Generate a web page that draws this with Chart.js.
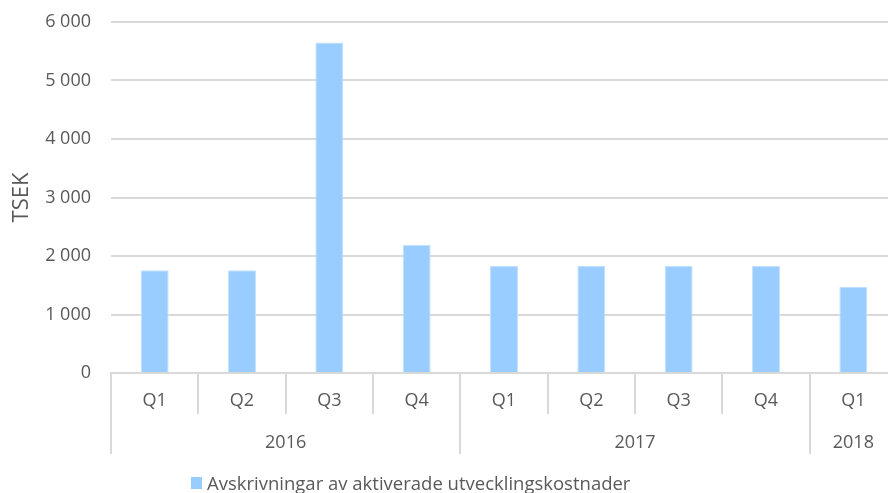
<!DOCTYPE html>
<html>
<head>
<meta charset="utf-8">
<script src="https://cdn.jsdelivr.net/npm/chart.js@4.4.1/dist/chart.umd.min.js"></script>
<style>
    html, body { margin: 0; padding: 0; background: #fff; overflow: hidden; }
    #wrap { position: relative; width: 888px; height: 493px; overflow: hidden; }
    #chartCanvas { position: absolute; left: 0; top: 0; }
    #legend {
        position: absolute; left: 191px; top: 470px;
        font-family: "Open Sans", sans-serif; font-size: 18.5px; color: #595959;
        display: flex; align-items: center; white-space: nowrap;
    }
    #legend .box { width: 11px; height: 12px; background: #99CCFF; margin-right: 5px; }
</style>
</head>
<body>
<div id="wrap">
    <canvas id="chartCanvas" width="900" height="493"></canvas>
    <div id="legend"><span class="box"></span><span>Avskrivningar av aktiverade utvecklingskostnader</span></div>
</div>
<script>
const quarters = ['Q1', 'Q2', 'Q3', 'Q4', 'Q1', 'Q2', 'Q3', 'Q4', 'Q1'];
const years = ['2016', '2017', '2018'];
const yearSpans = [4, 4, 1];
const depreciation = [1755, 1755, 5650, 2190, 1835, 1835, 1835, 1835, 1475];
const yTicks = [0, 1000, 2000, 3000, 4000, 5000, 6000];

const textColor = '#595959';
const gridColor = '#d9d9d9';
const fontFamily = '"Open Sans", sans-serif';

// year boundaries and year label positions on a 0..n linear axis
let yearBounds = [0];
let yearCenters = [];
let pos = 0;
for(let i = 0; i < yearSpans.length; i++){
    yearCenters.push(pos + yearSpans[i] / 2);
    pos += yearSpans[i];
    yearBounds.push(pos);
}
const yearTickValues = yearBounds.concat(yearCenters).sort((a, b) => a - b);

const fmt = (v) => v.toString().replace(/\B(?=(\d{3})+(?!\d))/g, ' ');

new Chart(document.getElementById('chartCanvas'), {
    type: 'bar',
    data: {
        labels: quarters,
        datasets: [{
            label: 'Avskrivningar av aktiverade utvecklingskostnader',
            data: depreciation,
            backgroundColor: '#99CCFF',
            borderColor: '#c4e1ff',
            borderWidth: 1,
            barPercentage: 0.32,
            categoryPercentage: 1.0
        }]
    },
    options: {
        responsive: false,
        animation: false,
        layout: { padding: { top: 22, right: 3, bottom: 39, left: 0 } },
        plugins: {
            legend: { display: false },
            tooltip: { enabled: false }
        },
        scales: {
            y: {
                min: 0,
                max: 6000,
                afterBuildTicks: (scale) => { scale.ticks = yTicks.map(v => ({ value: v })); },
                afterFit: (scale) => {
                    scale.width = 111;
                    scale.paddingTop = 0;
                    scale.paddingBottom = 0;
                },
                border: { display: false },
                grid: { color: gridColor, lineWidth: 2, drawTicks: false },
                ticks: {
                    padding: 20,
                    color: textColor,
                    font: { family: fontFamily, size: 18 },
                    callback: (v) => fmt(v)
                },
                title: {
                    display: true,
                    text: 'TSEK',
                    color: textColor,
                    font: { family: fontFamily, size: 22 },
                    padding: { top: 9, bottom: 0 }
                }
            },
            x: {
                offset: true,
                afterFit: (scale) => { scale.height = 41; },
                border: { display: true, color: gridColor, width: 2 },
                grid: {
                    offset: true,
                    drawOnChartArea: false,
                    drawTicks: true,
                    tickLength: 41,
                    color: gridColor,
                    tickColor: gridColor,
                    lineWidth: 2
                },
                ticks: {
                    padding: -24,
                    maxRotation: 0,
                    autoSkip: false,
                    color: textColor,
                    font: { family: fontFamily, size: 18 }
                }
            },
            x2: {
                type: 'linear',
                position: 'bottom',
                offset: false,
                min: 0,
                max: quarters.length,
                afterBuildTicks: (scale) => { scale.ticks = yearTickValues.map(v => ({ value: v })); },
                afterFit: (scale) => { scale.height = 40; },
                border: { display: false },
                grid: {
                    offset: false,
                    drawOnChartArea: false,
                    drawTicks: true,
                    tickLength: 40,
                    lineWidth: 2,
                    color: 'rgba(0,0,0,0)',
                    tickColor: (ctx) => (ctx.tick && yearBounds.includes(ctx.tick.value)) ? gridColor : 'rgba(0,0,0,0)'
                },
                ticks: {
                    padding: -22,
                    maxRotation: 0,
                    autoSkip: false,
                    color: textColor,
                    font: { family: fontFamily, size: 18 },
                    callback: (v) => {
                        let idx = yearCenters.indexOf(v);
                        return idx >= 0 ? years[idx] : '';
                    }
                }
            }
        }
    }
});
</script>
</body>
</html>
